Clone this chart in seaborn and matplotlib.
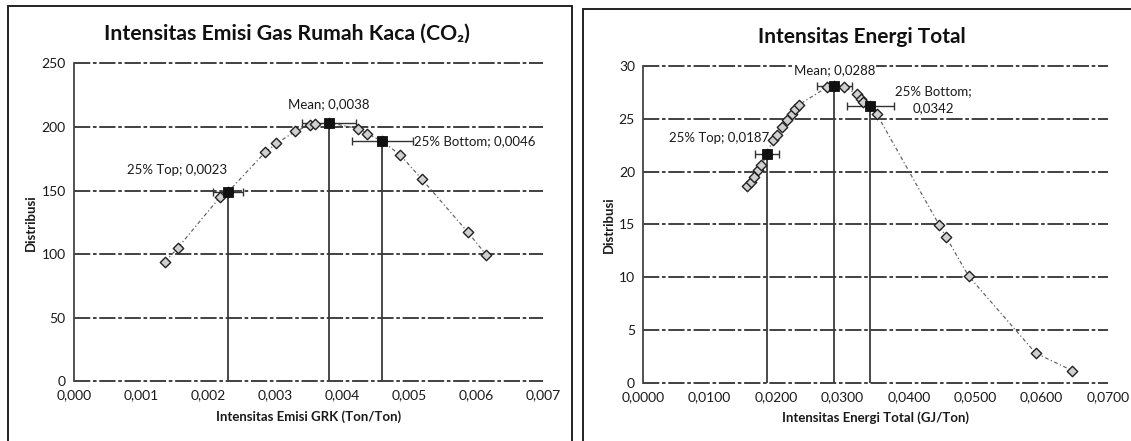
import numpy as np
import pandas as pd
import matplotlib
matplotlib.use("Agg")
import matplotlib.pyplot as plt
from matplotlib.ticker import FuncFormatter
from matplotlib.patches import Rectangle
import seaborn as sns

# ---------------- data: left chart (CO2 emission intensity) ----------------
ghg_x = [0.00136, 0.00155, 0.00218, 0.0023, 0.00285, 0.00302, 0.00330, 0.00352,
         0.00360, 0.0038, 0.00424, 0.00437, 0.0046, 0.00487, 0.00519, 0.00587, 0.00615]
ghg_y = [94, 105, 145, 149, 180, 187, 196.5, 201.5, 202, 203.4, 198.6, 194.7,
         188.7, 177.7, 158.8, 117.5, 99.3]
ghg_special_x = [0.0023, 0.0038, 0.0046]
ghg_special_y = [149, 203.4, 188.7]
ghg_special_err = [0.00022, 0.0004, 0.00045]
ghg_labels = ["25% Top; 0,0023", "Mean; 0,0038", "25% Bottom; 0,0046"]
ghg_yticks = [0, 50, 100, 150, 200, 250]
ghg_xticks = [0.000, 0.001, 0.002, 0.003, 0.004, 0.005, 0.006, 0.007]

# ---------------- data: right chart (total energy intensity) ----------------
en_x = [0.0156, 0.0162, 0.0167, 0.0173, 0.0178, 0.0187, 0.0195, 0.0201, 0.0209,
        0.0216, 0.0224, 0.0229, 0.0234, 0.0277, 0.0288, 0.0303, 0.0322, 0.0328,
        0.0331, 0.0342, 0.0352, 0.0446, 0.0456, 0.0490, 0.0591, 0.0646]
en_y = [18.6, 19.0, 19.5, 20.1, 20.6, 21.7, 23.0, 23.5, 24.2, 24.9, 25.4, 25.9,
        26.3, 28.0, 28.1, 28.0, 27.3, 26.9, 26.6, 26.2, 25.4, 14.9, 13.8, 10.1, 2.8, 1.15]
en_special_x = [0.0187, 0.0288, 0.0342]
en_special_y = [21.7, 28.1, 26.2]
en_special_err = [0.0018, 0.0027, 0.0035]
en_labels = ["25% Top; 0,0187", "Mean; 0,0288", "25% Bottom;\n0,0342"]
en_yticks = [0, 5, 10, 15, 20, 25, 30]
en_xticks = [0.00, 0.01, 0.02, 0.03, 0.04, 0.05, 0.06, 0.07]

sns.set_theme(style="white")
plt.rcParams['font.family'] = ['Lato', 'DejaVu Sans']

W, H = 1131, 441
fig = plt.figure(figsize=(W / 100, H / 100), dpi=100)
fig.patch.set_facecolor("white")

# chart area frames (as in the scanned report)
fig.patches.append(Rectangle((8 / W, -0.05), (572 - 8) / W, 1.05 - 6 / H,
                             transform=fig.transFigure, fill=False,
                             edgecolor="#222222", lw=1.4))
fig.patches.append(Rectangle((583 / W, -0.05), 0.7, 1.05 - 9 / H,
                             transform=fig.transFigure, fill=False,
                             edgecolor="#222222", lw=1.4))

ax1 = fig.add_axes([74 / W, 1 - 381.3 / H, (543.3 - 74) / W, (381.3 - 63.3) / H])
ax2 = fig.add_axes([643.3 / W, 1 - 382.7 / H, (1108 - 643.3) / W, (382.7 - 65.9) / H])

grid_ls = (0, (9, 1.5, 2, 1.5))
curve_ls = (0, (3, 2, 1, 2))


def style_axes(ax, xticks, yticks, fmt):
    ax.set_xlim(xticks[0], xticks[-1])
    ax.set_ylim(yticks[0], yticks[-1])
    ax.set_xticks(xticks)
    ax.set_yticks(yticks)
    ax.xaxis.set_major_formatter(FuncFormatter(lambda v, p: (fmt % v).replace(".", ",")))
    ax.yaxis.set_major_formatter(FuncFormatter(lambda v, p: "%d" % v))
    for s in ["top", "right", "bottom"]:
        ax.spines[s].set_visible(False)
    ax.spines["left"].set_color("#444444")
    ax.spines["left"].set_linewidth(1.3)
    ax.tick_params(length=0, labelsize=10, colors="#1a1a1a", pad=6)
    for t in yticks:
        ax.axhline(t, color="#333333", lw=1.3, ls=grid_ls, zorder=1, clip_on=False)
    ax.set_facecolor("white")


def draw(ax, xs, ys, sx, sy, serr, labels):
    df = pd.DataFrame({"x": xs, "y": ys})
    sns.lineplot(data=df, x="x", y="y", ax=ax, color="#666666", lw=0.9,
                 linestyle=curve_ls, sort=True, zorder=2)
    sns.scatterplot(data=df, x="x", y="y", ax=ax, marker="D", s=28,
                    facecolor="#d0d0d0", edgecolor="#222222", linewidth=1.0, zorder=4)
    ax.vlines(sx, 0, sy, color="#3a3a3a", lw=1.3, zorder=2)
    ax.errorbar(sx, sy, xerr=serr, fmt="none", ecolor="#333333", elinewidth=1.0,
                capsize=3, capthick=1.0, zorder=3)
    sdf = pd.DataFrame({"x": sx, "y": sy})
    sns.scatterplot(data=sdf, x="x", y="y", ax=ax, marker="s", s=55,
                    color="#111111", edgecolor="#111111", zorder=5)


draw(ax1, ghg_x, ghg_y, ghg_special_x, ghg_special_y, ghg_special_err, ghg_labels)
style_axes(ax1, ghg_xticks, ghg_yticks, "%.3f")
draw(ax2, en_x, en_y, en_special_x, en_special_y, en_special_err, en_labels)
style_axes(ax2, en_xticks, en_yticks, "%.4f")

lab_kw = dict(fontsize=9.5, color="#1a1a1a")
# left annotations
ax1.text(ghg_special_x[0] - 0.00002, 166, ghg_labels[0], ha="right", va="center", **lab_kw)
ax1.text(ghg_special_x[1], 218, ghg_labels[1], ha="center", va="center", **lab_kw)
ax1.text(0.00507, ghg_special_y[2], ghg_labels[2], ha="left", va="center", **lab_kw)
# right annotations
ax2.text(en_special_x[0] + 0.0002, 23.2, en_labels[0], ha="right", va="center", **lab_kw)
ax2.text(en_special_x[1], 29.6, en_labels[1], ha="center", va="center",
         bbox=dict(facecolor="white", edgecolor="none", pad=0.5), **lab_kw)
ax2.text(0.0437, 26.8, en_labels[2], ha="center", va="center", linespacing=1.5, **lab_kw)

# axis titles
ax1.set_xlabel("Intensitas Emisi GRK (Ton/Ton)", fontsize=9.5, fontweight="bold",
               color="#1a1a1a", labelpad=6)
ax2.set_xlabel("Intensitas Energi Total (GJ/Ton)", fontsize=9.5, fontweight="bold",
               color="#1a1a1a", labelpad=6)
ax1.set_ylabel("Distribusi", fontsize=9.5, fontweight="bold", color="#1a1a1a", labelpad=3)
ax2.set_ylabel("Distribusi", fontsize=9.5, fontweight="bold", color="#1a1a1a", labelpad=3)

# chart titles
fig.text(287 / W, 1 - 34 / H, "Intensitas Emisi Gas Rumah Kaca (CO\u2082)", ha="center",
         va="center", fontsize=15.3, fontweight="bold", color="#111111")
fig.text(862 / W, 1 - 37 / H, "Intensitas Energi Total", ha="center",
         va="center", fontsize=15, fontweight="bold", color="#111111")

fig.savefig("out.png", dpi=100, facecolor="white")
